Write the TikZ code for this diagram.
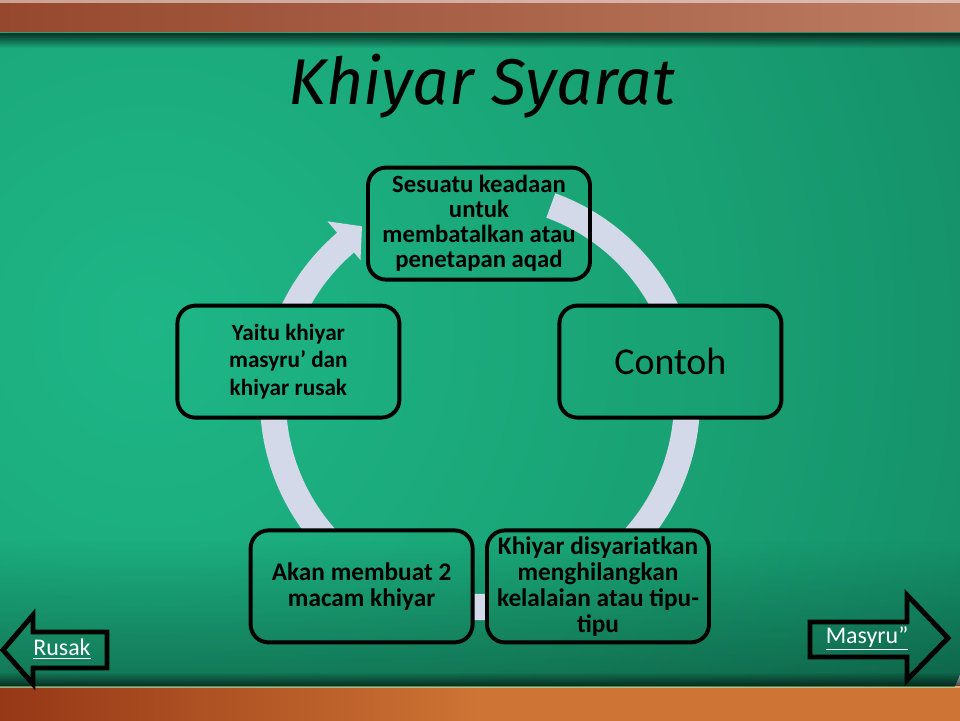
\documentclass[tikz,border=0pt]{standalone}
\usepackage{fontspec}
\setmainfont{Carlito}
\newfontfamily\titlefont{Fira Sans}
\usepackage{xcolor}
\usepackage{tikz}
\usetikzlibrary{fadings}

\definecolor{glowA}{RGB}{30,182,134}
\definecolor{glowB}{RGB}{25,162,116}
\definecolor{glowC}{RGB}{19,134,98}
\definecolor{glowD}{RGB}{13,100,75}
\definecolor{glowE}{RGB}{6,58,46}
\definecolor{ringgray}{RGB}{212,217,233}
\definecolor{woodA}{RGB}{150,72,46}
\definecolor{woodB}{RGB}{188,124,98}
\definecolor{woodC}{RGB}{150,55,22}
\definecolor{woodD}{RGB}{206,116,52}
\pgfdeclareradialshading{boardglow}{\pgfpoint{0bp}{0bp}}{color(0bp)=(glowA); color(15bp)=(glowB); color(30bp)=(glowC); color(42bp)=(glowD); color(50bp)=(glowE)}

% green board surface, repainted inside the boxes
\newcommand{\boardpaint}{%
  \shade[shading=boardglow] (3.75,9.75) circle (22);
  \fill[black, opacity=0.3, path fading=north] (0,0.85) rectangle (24,4.5);
  \fill[black, opacity=0.7, path fading=south] (0,16.8) rectangle (24,17.175);
  \fill[black, opacity=0.6, path fading=north] (0,0.85) rectangle (24,1.2);}

\begin{document}
\begin{tikzpicture}[
    cyclebox/.style={draw=black, line width=2.8pt, rounded corners=0.45cm,
        minimum width=5.55cm, minimum height=2.8cm, inner sep=2pt, align=center,
        font=\fontsize{18}{18.5}\selectfont\bfseries},
    navlabel/.style={text=white, font=\fontsize{17}{20}\selectfont},
    navarrow/.style={draw=black, line width=3.5pt, line join=miter}
]
\useasboundingbox (0,0) rectangle (24,18);

% wooden frame
\shade[left color=woodA, right color=woodB] (0,17.175) rectangle (24,18);
\fill[white, opacity=0.5] (0,17.93) rectangle (24,18);
\shade[left color=woodC, right color=woodD, middle color=woodD] (0,0) rectangle (24,0.85);
\fill[orange!40!white, opacity=0.6] (0,0.8) rectangle (24,0.85);

% chalkboard
\begin{scope}
\clip (0,0.85) rectangle (24,17.175);
\boardpaint
\end{scope}

\node[font=\titlefont\itshape\fontsize{46}{50}\selectfont, anchor=base] (title) at (12.05,15.375) {Khiyar Syarat};

% cycle
\fill[ringgray, shift={(12,8.0)}] (70:5.5) arc[start angle=70, end angle=-229.5, radius=5.5]
    -- (130.5:5.875) -- (124.2:5.25) -- (130.5:4.6) -- (130.5:4.85)
    arc[start angle=-229.5, end angle=70, radius=4.85] -- cycle;
\foreach \x/\y in {16.76/8.96, 14.95/3.34, 9.04/3.34, 7.21/8.96} {
    \begin{scope}
    \clip[rounded corners=0.45cm] (\x-2.775,\y-1.4) rectangle (\x+2.775,\y+1.4);
    \boardpaint
    \end{scope}
}
\node[cyclebox, font=\fontsize{17.6}{17.8}\selectfont\bfseries] (syarat) at (11.975,12.41) {Sesuatu keadaan\\untuk\\membatalkan atau\\penetapan aqad};
\node[cyclebox, font=\fontsize{27}{30}\selectfont] (contoh) at (16.76,8.96) {Contoh};
\node[cyclebox] (tujuan) at (14.95,3.34) {Khiyar disyariatkan\\menghilangkan\\kelalaian atau tipu-\\tipu};
\node[cyclebox] (macam) at (9.04,3.34) {Akan membuat 2\\macam khiyar};
\node[cyclebox, font=\fontsize{16.5}{19.5}\selectfont\bfseries] (jenis) at (7.21,8.96) {Yaitu khiyar\\masyru’ dan\\khiyar rusak};

% navigation
\draw[navarrow] (0.075,1.75) -- (0.825,2.625) -- (0.825,2.2) -- (2.675,2.2)
    -- (2.675,1.3) -- (0.825,1.3) -- (0.825,0.9) -- cycle;
\node[navlabel] (rusak) at (1.55,1.775) {\underline{Rusak}};
\draw[navarrow] (20.25,2.45) -- (22.675,2.45) -- (22.675,3.125) -- (23.7,2.05)
    -- (22.675,1.0) -- (22.675,1.575) -- (20.25,1.575) -- cycle;
\node[navlabel] (masyru) at (21.675,2.05) {\underline{Masyru”}};
\end{tikzpicture}
\end{document}
